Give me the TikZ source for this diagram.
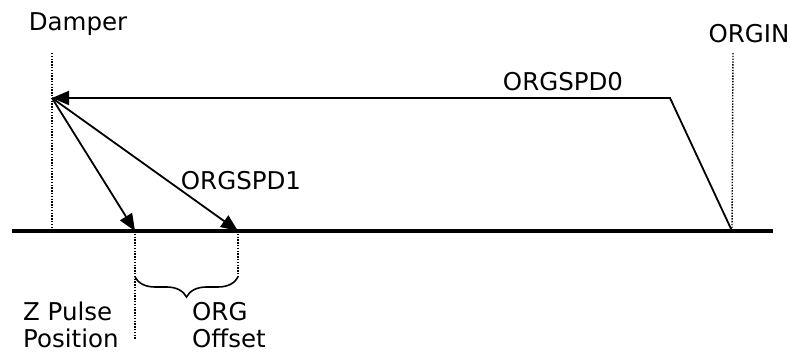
\documentclass[tikz,border=0pt]{standalone}
\usepackage{fontspec}
\setmainfont{DejaVu Sans}
\usetikzlibrary{arrows.meta,decorations.pathreplacing}
\begin{document}
\begin{tikzpicture}[x=1pt,y=-1pt,
  lbl/.style={font=\fontsize{24.5}{27}\selectfont, inner sep=0pt},
  guide/.style={dash pattern=on 1.4pt off 1.4pt, line width=1.4pt},
  motion/.style={line width=1.8pt},
  arr/.style={motion, -{Triangle[length=17pt,width=14pt]}},
  base/.style={line width=4pt}]
\useasboundingbox (0,0) rectangle (790,352);
% key points
\coordinate (bl) at (12,231);
\coordinate (br) at (773,231);
\coordinate (dtop) at (52,53);
\coordinate (dbot) at (52,228);
\coordinate (d) at (52,98);
\coordinate (otop) at (733,53);
\coordinate (o) at (732,231);
\coordinate (k) at (670,98);
\coordinate (z) at (135,231);
\coordinate (zb) at (135,340);
\coordinate (g) at (238,231);
\coordinate (gb) at (238,277);
\coordinate (zbr) at (135,277);
% baseline
\draw[base] (bl) -- (br);
% guides
\draw[guide] (dtop) -- (dbot);
\draw[guide] (otop) -- (o);
\draw[guide] (z) -- (zb);
\draw[guide] (g) -- (gb);
% motions
\draw[arr] (o) -- (k) -- (d);
\draw[arr] (d) -- (z);
\draw[arr] (d) -- (g);
% brace
\draw[line width=1.6pt, decorate, decoration={brace, mirror, amplitude=20pt, aspect=0.5}] (zbr) -- (gb);
% labels
\node[lbl] (damper) at (78,24) {Damper};
\node[lbl] (orgin) at (749,34) {ORGIN};
\node[lbl] (spd0) at (563,82) {ORGSPD0};
\node[lbl] (spd1) at (241,181) {ORGSPD1};
\node[lbl, align=left, anchor=west] (zp) at (23,325) {Z Pulse\\Position};
\node[lbl, align=left, anchor=west] (off) at (192,325) {ORG\\Offset};
\end{tikzpicture}
\end{document}
